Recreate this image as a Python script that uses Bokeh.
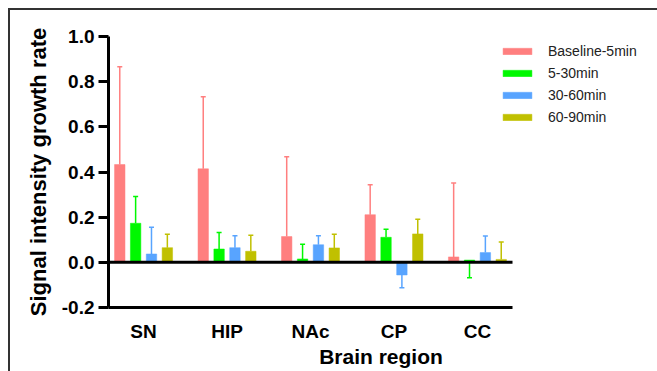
from bokeh.plotting import figure
from bokeh.models import (Range1d, FixedTicker, PrintfTickFormatter, Legend,
                          LegendItem, ColumnDataSource)
from bokeh.embed import file_html
from bokeh.resources import INLINE

categories = ["SN", "HIP", "NAc", "CP", "CC"]
series_names = ["Baseline-5min", "5-30min", "30-60min", "60-90min"]
series_colors = ["#FF7F7F", "#00F800", "#58A4FF", "#C0C000"]

baseline_5 = [0.433, 0.414, 0.114, 0.211, 0.024]
baseline_5_err = [0.866, 0.733, 0.467, 0.344, 0.351]
min_5_30 = [0.173, 0.059, 0.015, 0.111, 0.010]
min_5_30_err = [0.291, 0.132, 0.080, 0.146, -0.068]
min_30_60 = [0.037, 0.065, 0.078, -0.056, 0.043]
min_30_60_err = [0.155, 0.118, 0.118, -0.112, 0.117]
min_60_90 = [0.065, 0.049, 0.064, 0.126, 0.013]
min_60_90_err = [0.124, 0.120, 0.124, 0.191, 0.090]

y_ticks = [-0.2, 0.0, 0.2, 0.4, 0.6, 0.8, 1.0]

values = [baseline_5, min_5_30, min_30_60, min_60_90]
err_ends = [baseline_5_err, min_5_30_err, min_30_60_err, min_60_90_err]

FONT = "Liberation Sans"

# axis extent (category axis) and the wider frame that also holds the legend
x_lo, x_hi = -0.42, len(categories) - 1 + 0.42
axis_px, frame_px = 404, 545
x_frame_hi = x_lo + (x_hi - x_lo) * frame_px / axis_px

p = figure(width=657, height=371, x_range=Range1d(x_lo, x_frame_hi), y_range=Range1d(-0.2, 1.0),
           output_backend="svg", toolbar_location=None, title=None,
           min_border_left=108, min_border_top=36, min_border_right=4, min_border_bottom=64)
p.styles = {"box-shadow": "inset 8px 8px 0 0 #ffffff, inset 10px 10px 0 0 #333333"}
p.outline_line_color = None
p.xgrid.visible = False
p.ygrid.visible = False
p.background_fill_color = "white"
p.border_fill_alpha = 0

bar_w = 0.125
step = 0.19
cap_half = 0.03
items = []
for k, (name, color, vals, ends) in enumerate(zip(series_names, series_colors, values, err_ends)):
    off = (k - 1.5) * step
    xs = [i + off for i in range(len(categories))]
    src = ColumnDataSource(dict(x=xs, top=vals, end=ends,
                                x0=[x - cap_half for x in xs], x1=[x + cap_half for x in xs]))
    p.segment(x0="x", y0="top", x1="x", y1="end", source=src, line_color=color, line_width=1.5)
    p.segment(x0="x0", y0="end", x1="x1", y1="end", source=src, line_color=color, line_width=1.5)
    r = p.vbar(x="x", top="top", bottom=0, width=bar_w, source=src,
               fill_color=color, line_color=color, line_width=0.5)
    items.append(LegendItem(label=name, renderers=[r]))

# zero line across the category axis extent
p.segment(x0=[x_lo], y0=[0], x1=[x_hi], y1=[0], line_color="black", line_width=3)

# y axis
ya = p.yaxis[0]
ya.ticker = FixedTicker(ticks=y_ticks)
ya.formatter = PrintfTickFormatter(format="%.1f")
ya.major_tick_out = 10
ya.major_tick_in = 0
ya.minor_tick_line_color = None
ya.axis_line_width = 3
ya.major_tick_line_width = 3
ya.major_label_standoff = 4
ya.major_label_text_font = FONT
ya.major_label_text_font_style = "bold"
ya.major_label_text_font_size = "19px"
ya.major_label_text_color = "black"
ya.axis_label = "Signal intensity growth rate"
ya.axis_label_text_font = FONT
ya.axis_label_text_font_style = "bold"
ya.axis_label_text_font_size = "22px"
ya.axis_label_text_color = "black"
ya.axis_label_standoff = 8

# x axis
xa = p.xaxis[0]
xa.bounds = (x_lo, x_hi)
xa.ticker = FixedTicker(ticks=list(range(len(categories))))
xa.major_label_overrides = {i: c for i, c in enumerate(categories)}
xa.major_tick_out = 0
xa.major_tick_in = 0
xa.minor_tick_line_color = None
xa.axis_line_width = 3
xa.major_label_standoff = 13
xa.major_label_text_font = FONT
xa.major_label_text_font_style = "bold"
xa.major_label_text_font_size = "19px"
xa.major_label_text_color = "black"
xa.axis_label = "Brain region"
xa.axis_label_text_font = FONT
xa.axis_label_text_font_style = "bold"
xa.axis_label_text_font_size = "21px"
xa.axis_label_text_color = "black"
xa.axis_label_standoff = 0

legend = Legend(items=items, location=(391, 180), orientation="vertical",
                glyph_width=36, glyph_height=8, label_standoff=13,
                label_text_font=FONT, label_text_font_size="14px", label_text_color="#222222",
                label_height=20, spacing=2, padding=0, margin=0,
                border_line_color=None, background_fill_alpha=0)
p.add_layout(legend)

open("out.html", "w").write(file_html(p, INLINE))
